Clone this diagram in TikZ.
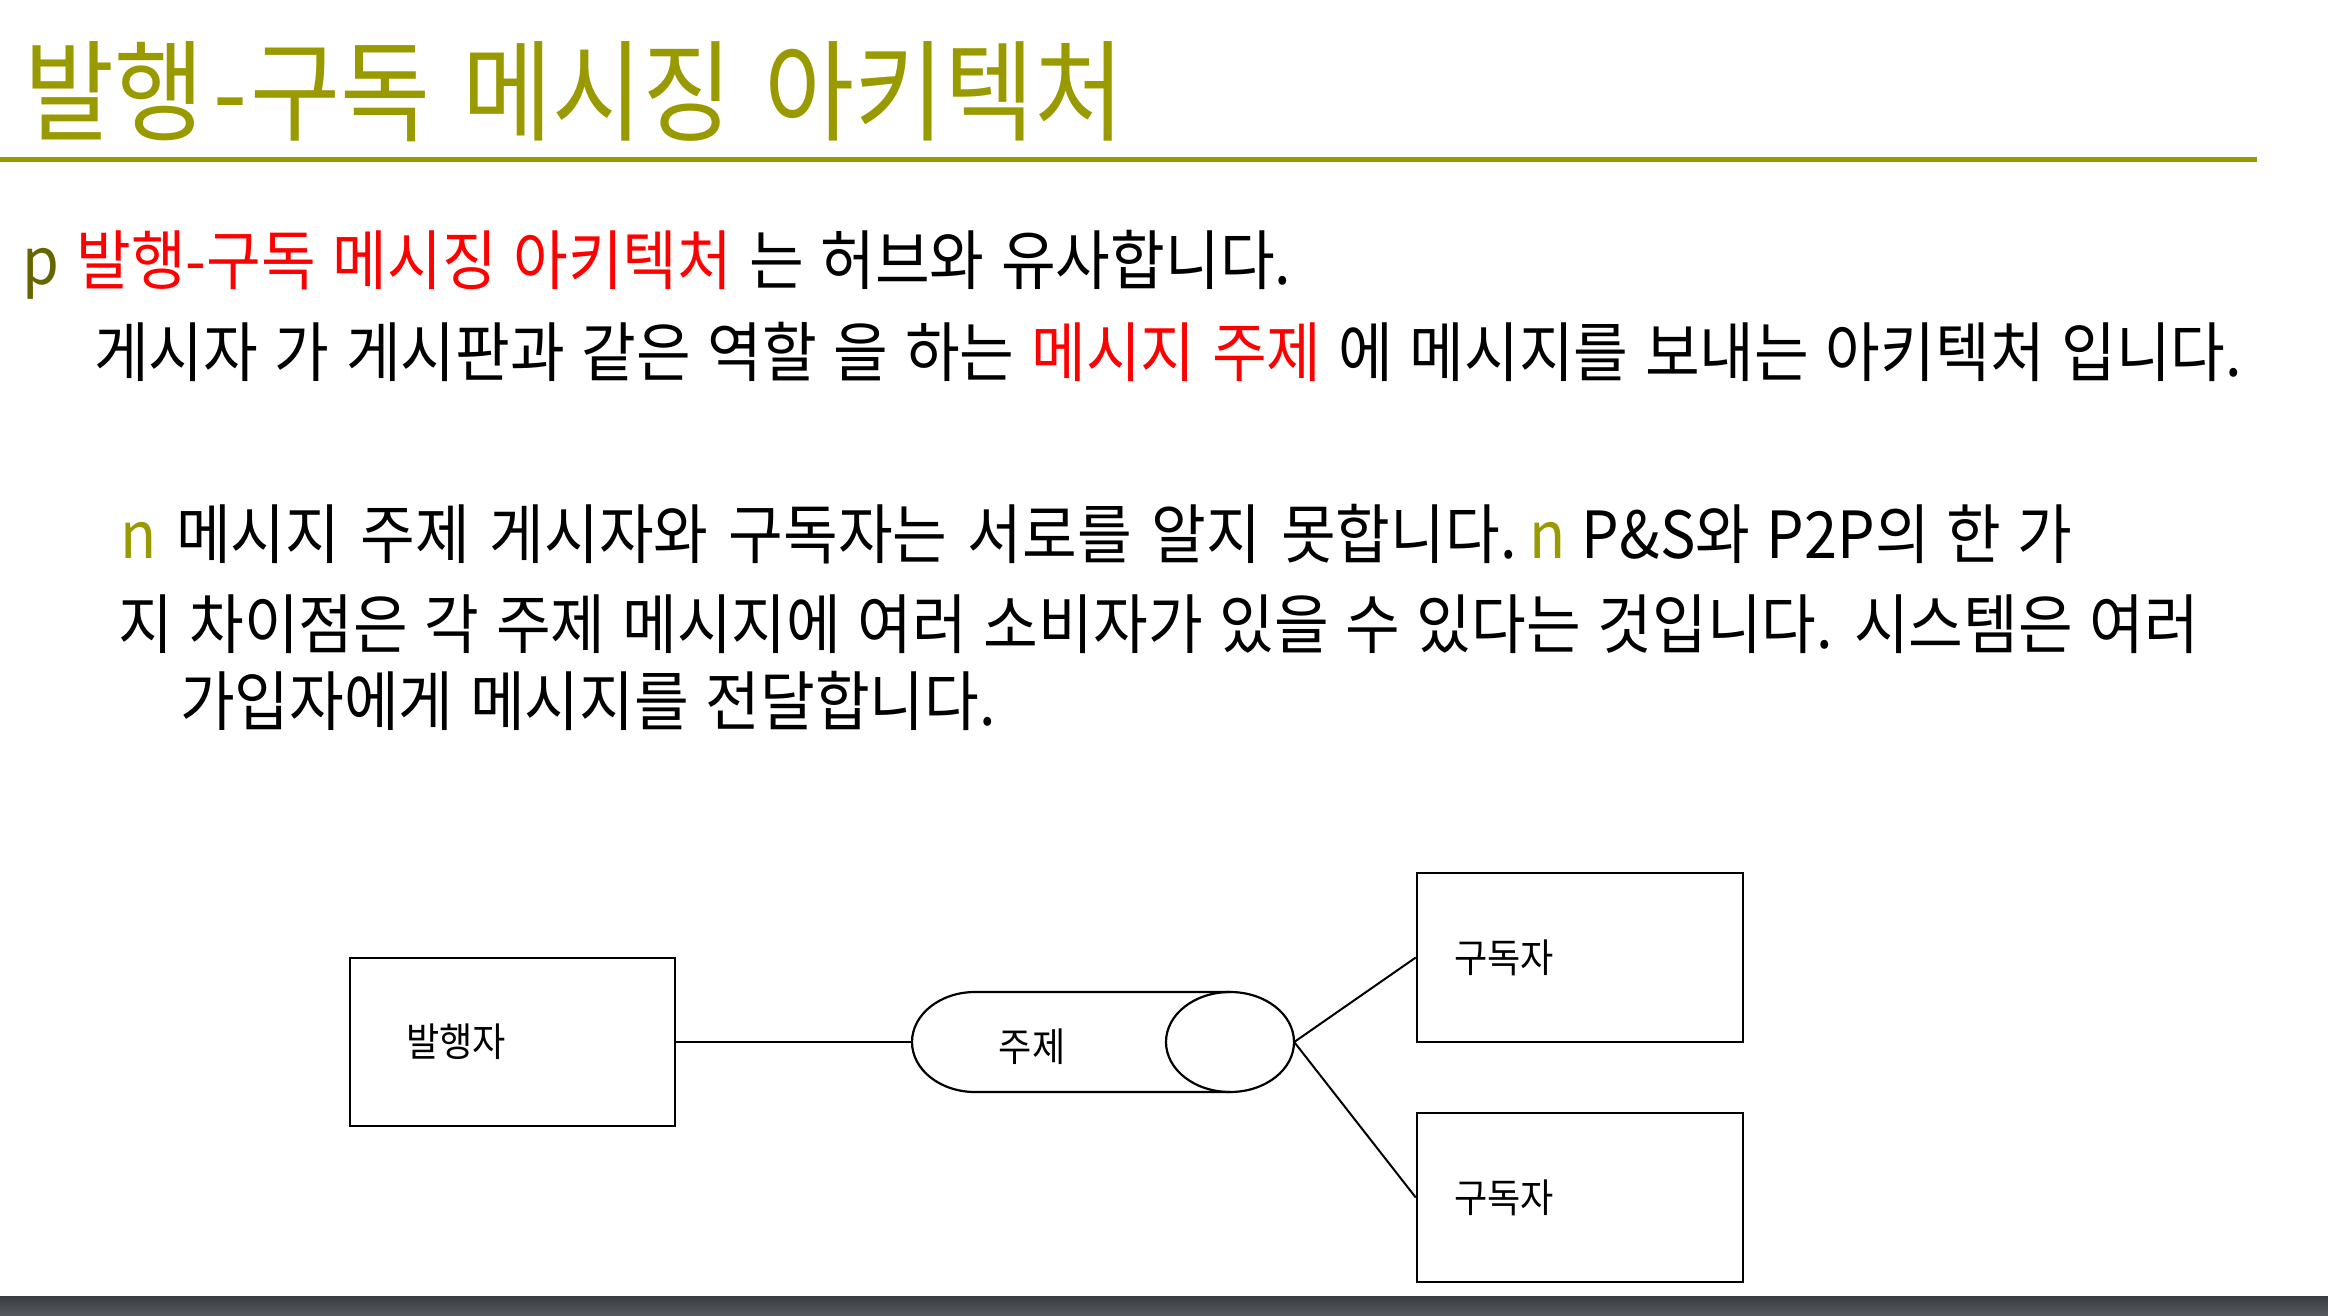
\documentclass[tikz,border=0pt]{standalone}
\usepackage{fontspec}
\setmainfont{Noto Sans CJK KR}[FakeStretch=0.915,WordSpace=1.25]
\newfontfamily\titlefont{Noto Sans CJK KR}[FakeStretch=0.89,WordSpace=1.46]
\definecolor{olive}{RGB}{153,153,0}
\definecolor{olivedark}{RGB}{102,102,0}
\definecolor{barTop}{RGB}{56,59,63}
\definecolor{barBot}{RGB}{88,91,95}
\tikzset{
  txt/.style={anchor=base west, inner sep=0pt, outer sep=0pt},
  bodytxt/.style={txt, font=\fontsize{65}{72}\selectfont},
  boxnode/.style={draw=black, line width=2.5pt, align=left, minimum height=168pt, font=\fontsize{39.5}{44}\selectfont},
  link/.style={draw=black, line width=2pt},
}
\begin{document}
\begin{tikzpicture}[x=1pt,y=-1pt]
\path[use as bounding box] (0,0) rectangle (2328,1316);
% title
\node[txt, text=olive, font=\titlefont\fontsize{110}{120}\selectfont] (title) at (24,133) {발행\kern9pt-\kern3pt 구독 메시징 아키텍처};
\draw[olive, line width=5pt] (0,160) -- (2257,160);
% body
\node[bodytxt] (l1) at (23,284) {{\color{olivedark}p} {\color{red}발행-구독 메시징 아키텍처} 는 허브와 유사합니다.};
\node[bodytxt] (l2) at (94,376) {게시자 가 게시판과 같은 역할 을 하는 {\color{red}메시지 주제} 에 메시지를 보내는 아키텍처 입니다.};
\node[bodytxt] (l3a) at (120,558) {\spaceskip=20pt {\color{olive}n} 메시지 주제 게시자와 구독자는 서로를 알지 못합니다.};
\node[bodytxt] (l3b) at (1529,558) {{\color{olive}n} P\&S와 P2P의 한 가};
\node[bodytxt] (l4) at (118,648) {지 차이점은 각 주제 메시지에 여러 소비자가 있을 수 있다는 것입니다. 시스템은 여러};
\node[bodytxt] (l5) at (180,725) {가입자에게 메시지를 전달합니다.};
% diagram
\node[boxnode, inner xsep=56pt, text width=213pt] (pub) at (512.5,1042) {발행자};
\node[boxnode, inner xsep=37pt, text width=252pt, minimum height=169pt] (sub1) at (1580,957.5) {구독자};
\node[boxnode, inner xsep=37pt, text width=252pt, minimum height=169pt] (sub2) at (1580,1197.5) {구독자};
\node[minimum width=382pt, minimum height=100pt, inner sep=0pt] (topic) at (1103,1042) {};
\draw[line width=2.2pt] (1230,992) -- (975,992) arc[start angle=270, end angle=90, x radius=63, y radius=50] -- (1230,1092);
\draw[line width=2.2pt] (1230,1042) ellipse[x radius=64, y radius=50];
\node[inner sep=0pt, font=\fontsize{39.5}{44}\selectfont] (topiclabel) at (1032,1047) {주제};
\draw[link] (pub.east) -- (topic.west);
\draw[link] (topic.east) -- (sub1.west);
\draw[link] (topic.east) -- (sub2.west);
% bottom bar
\shade[top color=barTop, bottom color=barBot] (0,1296) rectangle (2328,1316);
\end{tikzpicture}
\end{document}
